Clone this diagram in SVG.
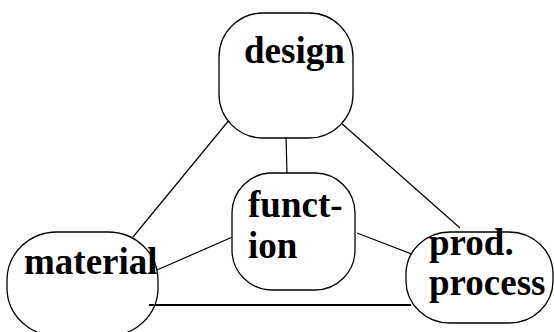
<svg xmlns="http://www.w3.org/2000/svg" width="554" height="332" viewBox="0 0 554 332">
  <style>
    .box { fill: #fff; stroke: #000; stroke-width: 1.3; }
    .lbl { font-family: "Liberation Serif", "Times New Roman", serif; font-weight: bold; font-size: 37px; fill: #000; }
    .link { stroke: #000; stroke-width: 1.2; fill: none; }
    .thick { stroke: #000; stroke-width: 2.2; fill: none; }
  </style>
  <rect width="554" height="332" fill="#fff"/>

  <g id="connectors">
    <line class="link" x1="230" y1="119" x2="133" y2="237"/>
    <line class="link" x1="286" y1="135" x2="287" y2="174"/>
    <line class="link" x1="340" y1="122" x2="460" y2="228"/>
    <line class="link" x1="237" y1="235" x2="157" y2="270"/>
    <line class="link" x1="357" y1="233" x2="422" y2="258"/>
  </g>

  <g id="design">
    <rect class="box" x="219" y="13" width="134" height="125" rx="44" ry="44"/>
    <text class="lbl" x="244" y="63">design</text>
  </g>

  <g id="function">
    <rect class="box" x="232" y="173" width="123" height="117" rx="40" ry="40"/>
    <text class="lbl" x="248" y="217">funct-</text>
    <text class="lbl" x="248" y="258">ion</text>
  </g>

  <g id="material">
    <rect class="box" x="7" y="232" width="151" height="104" rx="50" ry="48"/>
    <text class="lbl" x="24" y="274">material</text>
  </g>

  <g id="prod-process">
    <rect class="box" x="406" y="232" width="147" height="91" rx="44" ry="42"/>
    <text class="lbl" x="429" y="255">prod.</text>
    <text class="lbl" x="429" y="295">process</text>
  </g>

  <g id="base-line">
    <line class="thick" x1="149" y1="305" x2="411" y2="305"/>
  </g>
</svg>
